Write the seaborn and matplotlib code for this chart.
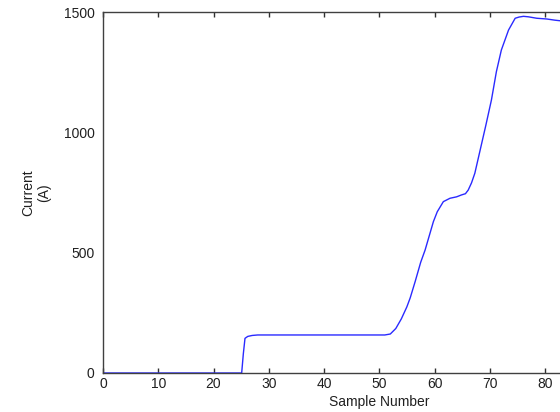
import numpy as np
import pandas as pd
import matplotlib
matplotlib.use('Agg')
import matplotlib.pyplot as plt
import seaborn as sns


# values
sample = [0, 25.1, 25.4, 25.7, 26.2, 27, 28, 51, 52, 53, 54, 55, 55.6, 56.5,
          57.5, 58.3, 59.8, 60.5, 61.6, 62.8, 64, 64.9, 65.6, 66.1, 66.7,
          67.3, 68.5, 69.3, 70.3, 71.2, 72.1, 73.4, 74.6, 75.3, 76.1, 77,
          78.5, 80.3, 81.8, 83]
current = [0, 0, 80, 144, 152, 156, 158, 158, 162, 185, 225, 275, 312, 380,
           460, 511, 629, 670, 712, 726, 732, 740, 745, 760, 790,
           830, 950, 1030, 1134, 1252, 1342, 1425, 1474, 1479, 1482, 1480,
           1474, 1471, 1466, 1463]

x_ticks = [0, 10, 20, 30, 40, 50, 60, 70, 80]
y_ticks = [0, 500, 1000, 1500]

df = pd.DataFrame({'Sample': sample, 'Current': current})

sns.set_style('white')
plt.rcParams['font.family'] = ['Liberation Sans', 'DejaVu Sans']

fig = plt.figure(figsize=(5.6, 4.12), dpi=100)
# axes run past the right edge, as in the cropped reference
ax = fig.add_axes([103 / 560, 39 / 412, 552.5 / 560, 361 / 412])

sns.lineplot(data=df, x='Sample', y='Current', ax=ax, color='#2a2aff',
             linewidth=1.0, sort=False)

ax.set_xlim(0, 100)
ax.set_ylim(0, 1500)
ax.set_xticks(x_ticks)
ax.set_yticks(y_ticks)

for s in ax.spines.values():
    s.set_color('#404040')
    s.set_linewidth(1.0)

ax.tick_params(axis='x', direction='in', length=3.5, width=1, color='#303030',
               top=True, bottom=True, labelsize=10, pad=3, labelcolor='#202020')
ax.tick_params(axis='y', length=0, labelsize=10, pad=6, labelcolor='#202020')

ax.set_xlabel('Sample Number', fontsize=10, color='#202020', labelpad=3)
ax.set_ylabel('Current\n(A)', fontsize=10, color='#202020')
ax.yaxis.set_label_coords(-0.094, 0.5)

fig.savefig('out.png', dpi=100)
